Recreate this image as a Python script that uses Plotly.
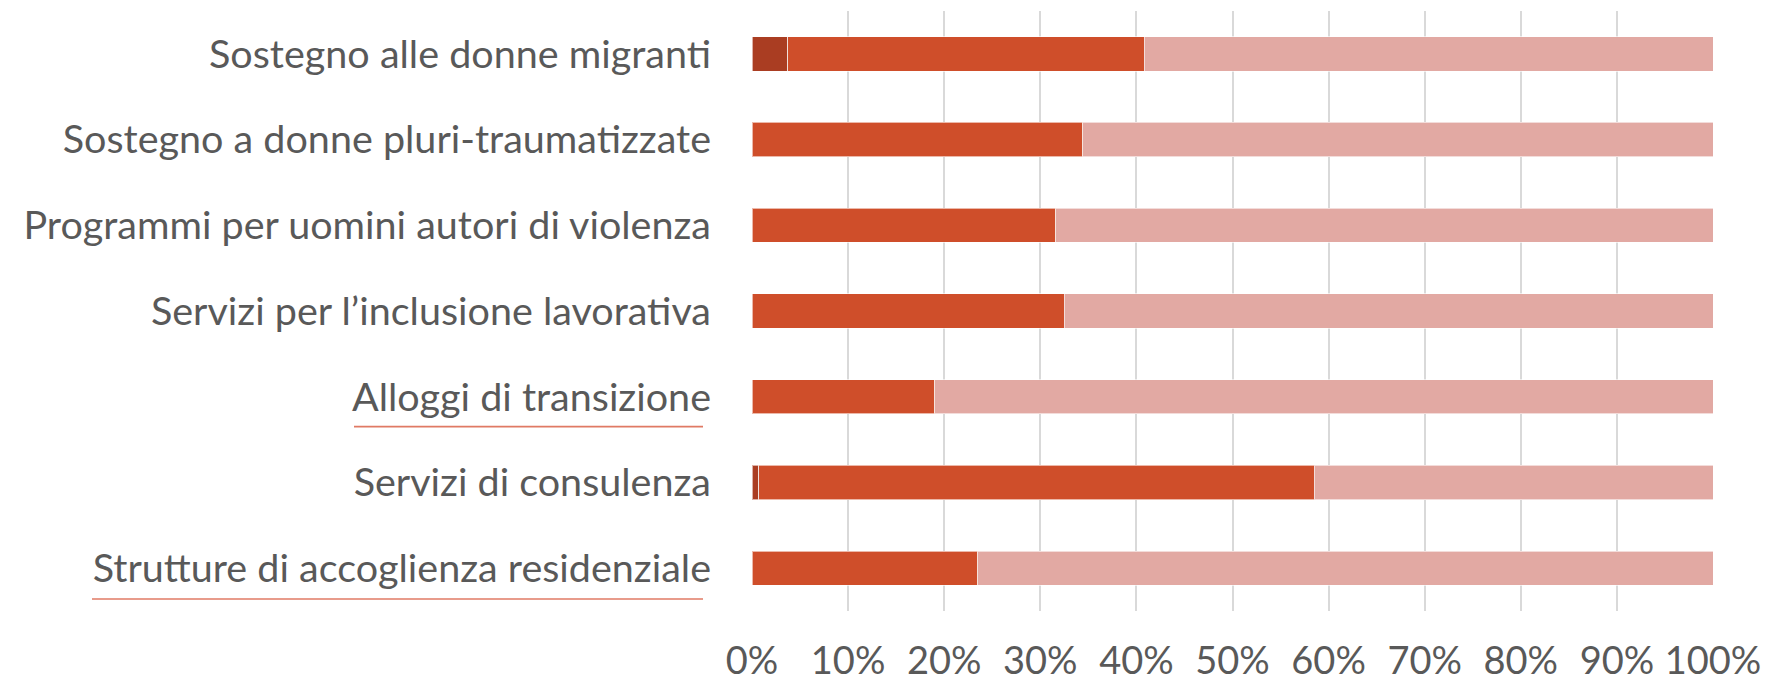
import plotly.graph_objects as go

categories = [
    "Sostegno alle donne migranti",
    "Sostegno a donne pluri-traumatizzate",
    "Programmi per uomini autori di violenza",
    "Servizi per l’inclusione lavorativa",
    "Alloggi di transizione",
    "Servizi di consulenza",
    "Strutture di accoglienza residenziale",
]
dark_vals = [3.7, 0, 0, 0, 0, 0.7, 0]
orange_vals = [37.1, 34.4, 31.6, 32.5, 19.0, 57.8, 23.5]
light_vals = [100 - d - o for d, o in zip(dark_vals, orange_vals)]
tick_vals = [0, 10, 20, 30, 40, 50, 60, 70, 80, 90, 100]
tick_text = [f"{v}%" for v in tick_vals]

series = [
    ("dark", dark_vals, "#AA3D22"),
    ("orange", orange_vals, "#CF4E2A"),
    ("light", light_vals, "#E2A9A3"),
]

fig = go.Figure()
for name, vals, col in series:
    fig.add_trace(go.Bar(
        y=categories, x=vals, orientation="h", name=name,
        marker=dict(color=col, line=dict(color="rgba(255,255,255,0.6)", width=1)),
        showlegend=False,
    ))

W, H = 1775, 681
ml, mr, mt, mb = 752, 62, 11, 70
pw = W - ml - mr

fig.update_layout(
    width=W, height=H,
    barmode="stack", bargap=0.6,
    margin=dict(l=ml, r=mr, t=mt, b=mb),
    plot_bgcolor="white", paper_bgcolor="white",
    font=dict(family="Lato, Open Sans, sans-serif", color="#595959"),
    xaxis=dict(range=[0, 100], tickvals=tick_vals, ticktext=tick_text,
               showgrid=True, gridcolor="#D9D9D9", gridwidth=1.5,
               zeroline=False, showline=False, ticks="", automargin=False,
               tickfont=dict(size=38, color="#595959"), ticklabelstandoff=24,
               fixedrange=True),
    yaxis=dict(autorange="reversed", showgrid=False, zeroline=False,
               showline=False, ticks="", automargin=False,
               tickfont=dict(size=39.5, color="#595959"),
               ticklabelstandoff=40),
)

def px2paper(px):
    return (px - ml) / pw

underline_col = "#E07A64"
fig.add_shape(type="line", xref="paper", yref="y",
              x0=px2paper(354), x1=px2paper(703), y0=4.35, y1=4.35,
              line=dict(color=underline_col, width=1.7))
fig.add_shape(type="line", xref="paper", yref="y",
              x0=px2paper(92), x1=px2paper(703), y0=6.36, y1=6.36,
              line=dict(color=underline_col, width=1.7))

fig.write_html(
    "out.html",
    config={"displayModeBar": False},
    post_script="document.body.style.margin='0';document.body.style.overflow='hidden';",
)
